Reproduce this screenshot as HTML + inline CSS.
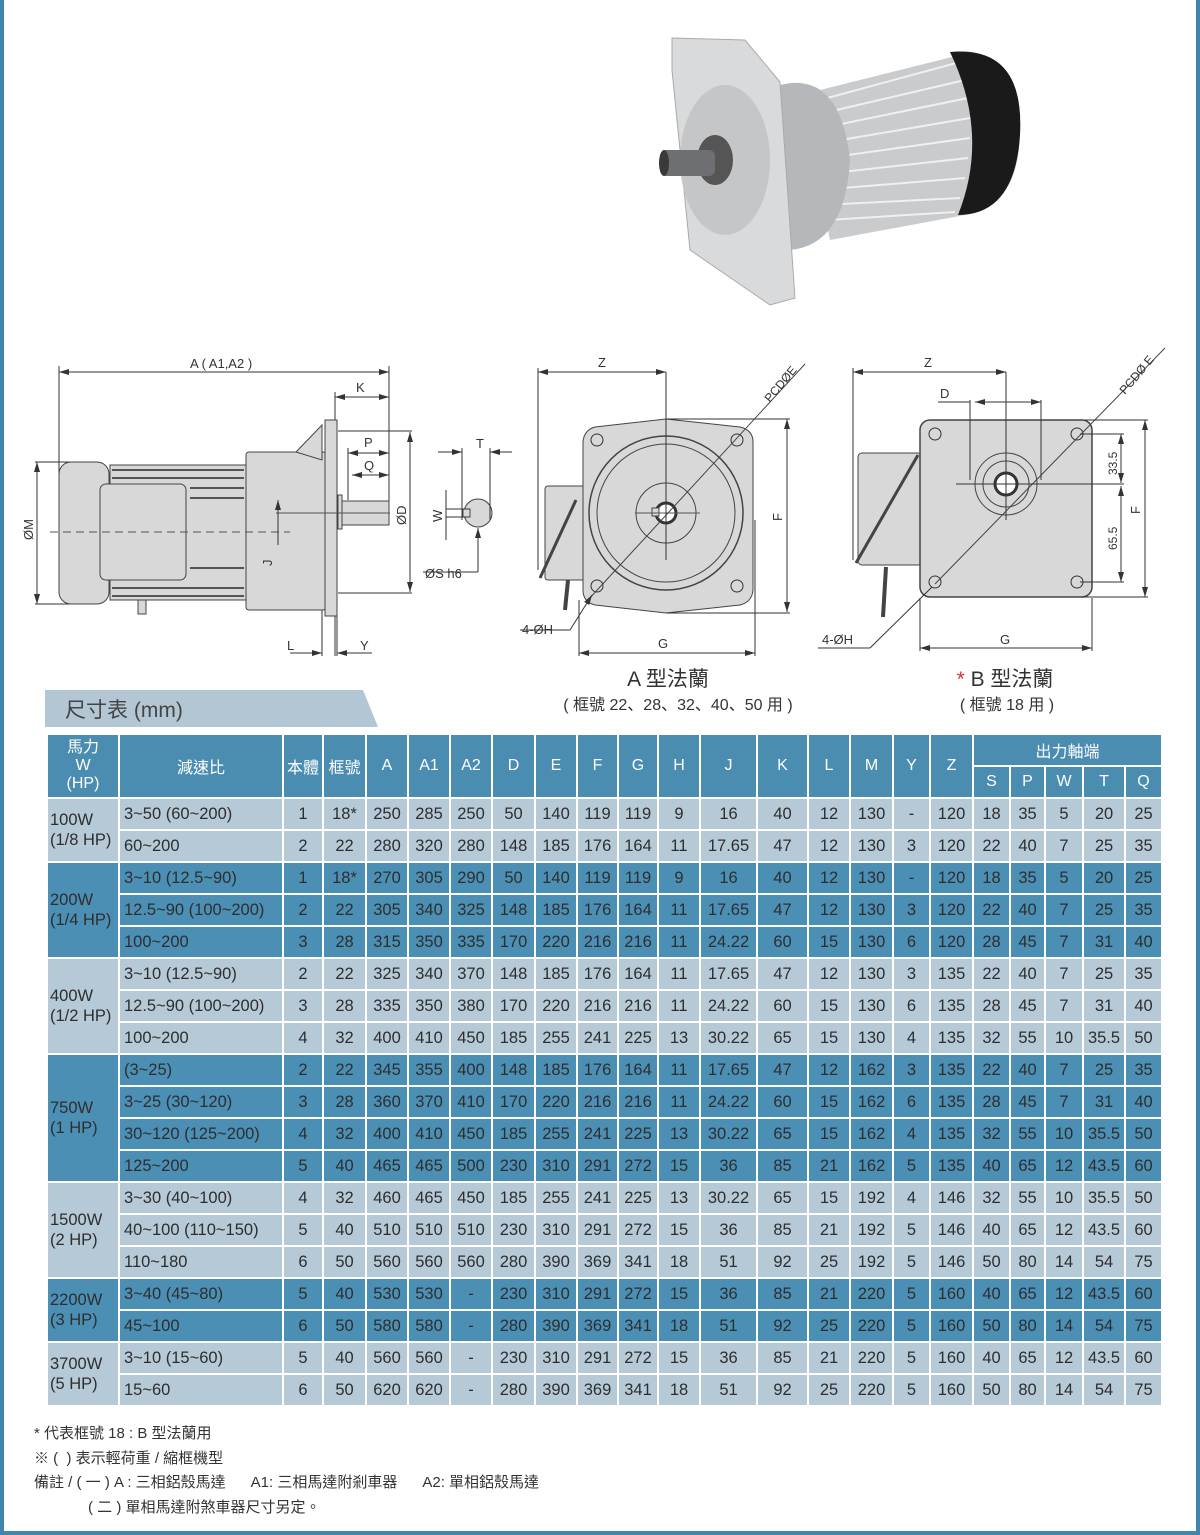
<!DOCTYPE html>
<html><head><meta charset="utf-8">
<style>
*{margin:0;padding:0;box-sizing:border-box}
body{width:1200px;height:1535px;background:#fff;position:relative;overflow:hidden;font-family:"Liberation Sans","Noto Sans CJK TC",sans-serif;color:#333}
.frame{position:absolute;left:0;top:0;width:1200px;height:1535px;border:4px solid #3d86ad;border-top:none}
svg{position:absolute;left:0;top:0}
.tab{position:absolute;left:45px;top:690px;width:333px;height:37px;background:#b3c6d4;clip-path:polygon(0 0,318px 0,333px 37px,0 37px);font-size:21px;color:#444;padding:4px 0 0 20px}
table{position:absolute;left:46px;top:733px;border-collapse:collapse;table-layout:fixed;font-size:16.5px;color:#2e2e2e}
td{border:2px solid #fff;height:32px;text-align:center;padding:0;white-space:nowrap}
thead td{background:#4a8db1;color:#fff;font-size:16px}
.l td{background:#b6c9d7}.d td{background:#4c8fb4}
td.r{text-align:left;padding-left:4px}
td.hp{text-align:left;padding-left:2px;line-height:20px}
.notes{position:absolute;left:34px;top:1422px;font-size:15px;line-height:24.5px;color:#333}
</style></head><body>
<div class="frame"></div>
<svg width="1200" height="735" font-family="Liberation Sans,sans-serif" font-size="12" fill="none" stroke="#333" stroke-width="1">
<defs><marker id="a" markerWidth="10" markerHeight="6" refX="10" refY="3" orient="auto-start-reverse"><path d="M0,0L10,3L0,6z" fill="#333" stroke="none"/></marker></defs>
<!-- motor photo -->
<g stroke="none">
<path d="M800,95 L960,55 Q1010,50 1020,130 Q1020,205 965,215 L830,240 Z" fill="#c9cbcd"/>
<g stroke="#eef0f2" stroke-width="2">
<line x1="820" y1="100" x2="960" y2="62"/><line x1="815" y1="115" x2="965" y2="80"/><line x1="812" y1="130" x2="968" y2="98"/><line x1="812" y1="145" x2="970" y2="118"/><line x1="812" y1="160" x2="970" y2="138"/><line x1="815" y1="175" x2="968" y2="158"/><line x1="818" y1="190" x2="965" y2="178"/><line x1="822" y1="205" x2="960" y2="198"/><line x1="828" y1="220" x2="955" y2="212"/></g>
<path d="M950,52 Q1025,45 1020,135 Q1015,215 958,215 Q990,135 950,52Z" fill="#1a1a1a"/>
<path d="M780,85 Q840,70 850,160 Q845,245 790,250 Z" fill="#b5b8bb"/>
<path d="M672,38 L745,40 L780,82 L795,298 L770,305 L690,250 L672,70 Z" fill="#d8dadc" stroke="#aaa"/>
<ellipse cx="725" cy="160" rx="45" ry="75" fill="#c4c6c8"/>
<ellipse cx="715" cy="160" rx="18" ry="25" fill="#555"/>
<rect x="660" y="150" width="55" height="26" rx="6" fill="#6d6f72"/>
<ellipse cx="664" cy="163" rx="5" ry="13" fill="#3a3a3a"/>
</g>
<!-- side view -->
<g stroke="#333">
<line x1="59" y1="372" x2="389" y2="372" marker-start="url(#a)" marker-end="url(#a)"/>
<line x1="59" y1="366" x2="59" y2="480"/><line x1="389" y1="366" x2="389" y2="520"/>
<line x1="335" y1="397" x2="389" y2="397" marker-start="url(#a)" marker-end="url(#a)"/><line x1="335" y1="392" x2="335" y2="420"/>
<line x1="348" y1="453" x2="389" y2="453" marker-start="url(#a)" marker-end="url(#a)"/><line x1="348" y1="448" x2="348" y2="500"/>
<line x1="352" y1="475" x2="389" y2="475" marker-start="url(#a)" marker-end="url(#a)"/>
<line x1="410" y1="432" x2="410" y2="592" marker-start="url(#a)" marker-end="url(#a)"/>
<line x1="338" y1="431" x2="412" y2="431"/><line x1="338" y1="593" x2="412" y2="593"/>
<line x1="37" y1="462" x2="37" y2="604" marker-start="url(#a)" marker-end="url(#a)"/>
<line x1="35" y1="462" x2="70" y2="462"/><line x1="35" y1="604" x2="70" y2="604"/>
<line x1="290" y1="653" x2="322" y2="653" marker-end="url(#a)"/><line x1="372" y1="653" x2="337" y2="653" marker-end="url(#a)"/>
<line x1="322" y1="600" x2="322" y2="656"/><line x1="337" y1="600" x2="337" y2="656"/><line x1="335" y1="600" x2="335" y2="656"/>
</g>
<g fill="#d8d8d8" stroke="#444">
<rect x="59" y="462" width="50" height="142" rx="12"/>
<rect x="110" y="465" width="136" height="135"/>
<rect x="100" y="484" width="86" height="96" rx="6"/>
<rect x="246" y="452" width="80" height="158" rx="3"/>
<path d="M296,452 L322,425 L322,460 Z"/>
<rect x="325" y="420" width="12" height="196"/>
<rect x="338" y="495" width="4" height="34"/>
<rect x="342" y="501" width="47" height="24"/>
<rect x="138" y="600" width="8" height="14"/>
</g>
<g stroke="#555" stroke-width="2"><line x1="112" y1="470" x2="244" y2="470"/><line x1="112" y1="478" x2="244" y2="478"/><line x1="190" y1="488" x2="244" y2="488"/><line x1="190" y1="498" x2="244" y2="498"/><line x1="190" y1="568" x2="244" y2="568"/><line x1="112" y1="588" x2="244" y2="588"/><line x1="112" y1="596" x2="244" y2="596"/></g>
<line x1="50" y1="532" x2="290" y2="532" stroke="#555" stroke-dasharray="8,5"/>
<line x1="276" y1="513" x2="390" y2="513" stroke="#555"/>
<line x1="278" y1="500" x2="278" y2="545" stroke="#333" marker-start="url(#a)"/>
<!-- key view -->
<circle cx="478" cy="513" r="14" fill="#d8d8d8" stroke="#444"/>
<rect x="463" y="509" width="7" height="8" fill="#d8d8d8" stroke="#444"/>
<line x1="438" y1="452" x2="462" y2="452" stroke="#333" marker-end="url(#a)"/><line x1="512" y1="452" x2="490" y2="452" stroke="#333" marker-end="url(#a)"/>
<line x1="462" y1="448" x2="462" y2="520"/><line x1="490" y1="448" x2="490" y2="520"/>
<line x1="446" y1="490" x2="446" y2="540"/><line x1="446" y1="509" x2="470" y2="509"/><line x1="446" y1="517" x2="470" y2="517"/>
<line x1="423" y1="572" x2="478" y2="572"/><line x1="478" y1="572" x2="478" y2="528" marker-end="url(#a)"/>
<!-- A flange -->
<rect x="545" y="486" width="40" height="94" rx="3" fill="#d8d8d8" stroke="#444"/>
<path d="M595,427 L666,419 L740,427 Q753,430 753,442 L753,590 Q752,602 740,605 L666,613 L595,605 Q583,602 583,590 L583,442 Q584,430 595,427Z" fill="#d8d8d8" stroke="#444"/>
<circle cx="666" cy="513" r="77" fill="none" stroke="#444" stroke-width="1.5"/>
<circle cx="666" cy="513" r="69" fill="none" stroke="#444"/>
<circle cx="666" cy="513" r="30" fill="none" stroke="#444"/>
<circle cx="666" cy="513" r="10" fill="#fff" stroke="#333" stroke-width="3"/>
<rect x="652" y="508" width="7" height="8" fill="#d8d8d8" stroke="#444"/>
<line x1="635" y1="513" x2="700" y2="513" stroke="#555"/>
<circle cx="597" cy="440" r="6"/><circle cx="737" cy="440" r="6"/><circle cx="597" cy="586" r="6"/><circle cx="737" cy="586" r="6"/>
<line x1="540" y1="578" x2="576" y2="500" stroke="#444" stroke-width="3"/>
<line x1="565" y1="610" x2="568" y2="580" stroke="#444" stroke-width="4"/>
<line x1="588" y1="600" x2="805" y2="364" stroke="#444"/>
<line x1="666" y1="372" x2="666" y2="560"/>
<line x1="538" y1="372" x2="666" y2="372" marker-start="url(#a)" marker-end="url(#a)"/><line x1="538" y1="368" x2="538" y2="570"/>
<line x1="787" y1="419" x2="787" y2="612" marker-start="url(#a)" marker-end="url(#a)"/><line x1="666" y1="419" x2="790" y2="419"/><line x1="666" y1="613" x2="790" y2="613"/>
<line x1="579" y1="653" x2="755" y2="653" marker-start="url(#a)" marker-end="url(#a)"/><line x1="579" y1="600" x2="579" y2="656"/><line x1="755" y1="520" x2="755" y2="656"/>
<line x1="520" y1="630" x2="570" y2="630"/><line x1="570" y1="630" x2="592" y2="595" marker-end="url(#a)"/>
<!-- B flange -->
<rect x="858" y="453" width="64" height="112" rx="4" fill="#d8d8d8" stroke="#444"/>
<rect x="920" y="420" width="172" height="177" rx="10" fill="#d8d8d8" stroke="#444" stroke-width="1.5"/>
<circle cx="1006" cy="484" r="31" fill="none" stroke="#444"/><circle cx="1006" cy="484" r="23" fill="none" stroke="#444"/><circle cx="1006" cy="484" r="11" fill="#fff" stroke="#333" stroke-width="3"/>
<circle cx="935" cy="434" r="6"/><circle cx="1077" cy="434" r="6"/><circle cx="935" cy="582" r="6"/><circle cx="1077" cy="582" r="6"/>
<line x1="856" y1="563" x2="918" y2="455" stroke="#444" stroke-width="3"/>
<line x1="883" y1="617" x2="886" y2="567" stroke="#444" stroke-width="4"/>
<line x1="935" y1="584" x2="1165" y2="348" stroke="#444"/>
<line x1="1006" y1="372" x2="1006" y2="520"/><line x1="956" y1="484" x2="1050" y2="484"/>
<line x1="853" y1="372" x2="1006" y2="372" marker-start="url(#a)" marker-end="url(#a)"/><line x1="853" y1="368" x2="853" y2="560"/>
<line x1="938" y1="402" x2="970" y2="402"/><line x1="975" y1="402" x2="1041" y2="402" marker-start="url(#a)" marker-end="url(#a)"/><line x1="970" y1="400" x2="970" y2="480"/><line x1="1041" y1="400" x2="1041" y2="480"/>
<line x1="1145" y1="420" x2="1145" y2="597" marker-start="url(#a)" marker-end="url(#a)"/><line x1="1082" y1="420" x2="1148" y2="420"/><line x1="1082" y1="597" x2="1148" y2="597"/>
<line x1="1121" y1="434" x2="1121" y2="483" marker-start="url(#a)" marker-end="url(#a)"/><line x1="1121" y1="486" x2="1121" y2="582" marker-start="url(#a)" marker-end="url(#a)"/>
<line x1="1045" y1="484" x2="1124" y2="484"/><line x1="1080" y1="434" x2="1124" y2="434"/><line x1="1080" y1="582" x2="1124" y2="582"/>
<line x1="920" y1="648" x2="1092" y2="648" marker-start="url(#a)" marker-end="url(#a)"/><line x1="920" y1="598" x2="920" y2="651"/><line x1="1092" y1="598" x2="1092" y2="651"/>
<line x1="818" y1="648" x2="870" y2="648"/><line x1="870" y1="648" x2="932" y2="587"/>
<!-- labels -->
<g fill="#333" stroke="none" font-size="13">
<text x="190" y="368">A ( A1,A2 )</text><text x="356" y="392">K</text><text x="364" y="447">P</text><text x="364" y="470">Q</text>
<text x="476" y="448">T</text><text x="425" y="578">ØS  h6</text><text x="287" y="650">L</text><text x="360" y="650">Y</text>
<text x="598" y="367">Z</text><text x="924" y="367">Z</text><text x="940" y="398">D</text>
<text x="658" y="648">G</text><text x="1000" y="644">G</text><text x="522" y="634">4-ØH</text><text x="822" y="644">4-ØH</text>
<text transform="translate(33,540) rotate(-90)">ØM</text><text transform="translate(406,525) rotate(-90)">ØD</text>
<text transform="translate(442,522) rotate(-90)">W</text><text transform="translate(272,566) rotate(-90)">J</text>
<text transform="translate(782,521) rotate(-90)">F</text><text transform="translate(1140,514) rotate(-90)">F</text>
<text transform="translate(1117,475) rotate(-90)" font-size="12">33.5</text><text transform="translate(1117,550) rotate(-90)" font-size="12">65.5</text>
<text transform="translate(770,403) rotate(-50)" font-size="12">PCDØE</text><text transform="translate(1125,395) rotate(-50)" font-size="12">PCDØ E</text>
<text x="668" y="686" font-size="21" text-anchor="middle">A 型法蘭</text>
<text x="678" y="710" font-size="16" text-anchor="middle">( 框號 22、28、32、40、50 用 )</text>
<text x="1005" y="686" font-size="21" text-anchor="middle"><tspan fill="#d33">*</tspan> B 型法蘭</text>
<text x="1007" y="710" font-size="16" text-anchor="middle">( 框號 18 用 )</text>
</g>
</svg>
<div class="tab">尺寸表 (mm)</div>
<table>
<colgroup><col style="width:72px"><col style="width:164px"><col style="width:40px"><col style="width:43px"><col style="width:42px"><col style="width:42px"><col style="width:42px"><col style="width:43px"><col style="width:42px"><col style="width:41px"><col style="width:40px"><col style="width:42px"><col style="width:57px"><col style="width:51px"><col style="width:42px"><col style="width:43px"><col style="width:37px"><col style="width:43px"><col style="width:37px"><col style="width:35px"><col style="width:38px"><col style="width:42px"><col style="width:37px"></colgroup>
<thead>
<tr><td rowspan="2" style="line-height:18px">馬力<br>W<br>(HP)</td><td rowspan="2">減速比</td><td rowspan="2">本體</td><td rowspan="2">框號</td><td rowspan="2">A</td><td rowspan="2">A1</td><td rowspan="2">A2</td><td rowspan="2">D</td><td rowspan="2">E</td><td rowspan="2">F</td><td rowspan="2">G</td><td rowspan="2">H</td><td rowspan="2">J</td><td rowspan="2">K</td><td rowspan="2">L</td><td rowspan="2">M</td><td rowspan="2">Y</td><td rowspan="2">Z</td><td colspan="5">出力軸端</td></tr>
<tr><td>S</td><td>P</td><td>W</td><td>T</td><td>Q</td></tr>
</thead>
<tbody>
<tr class="l"><td rowspan="2" class="hp">100W<br>(1/8 HP)</td><td class="r">3~50 (60~200)</td><td>1</td><td>18*</td><td>250</td><td>285</td><td>250</td><td>50</td><td>140</td><td>119</td><td>119</td><td>9</td><td>16</td><td>40</td><td>12</td><td>130</td><td>-</td><td>120</td><td>18</td><td>35</td><td>5</td><td>20</td><td>25</td></tr>
<tr class="l"><td class="r">60~200</td><td>2</td><td>22</td><td>280</td><td>320</td><td>280</td><td>148</td><td>185</td><td>176</td><td>164</td><td>11</td><td>17.65</td><td>47</td><td>12</td><td>130</td><td>3</td><td>120</td><td>22</td><td>40</td><td>7</td><td>25</td><td>35</td></tr>
<tr class="d"><td rowspan="3" class="hp">200W<br>(1/4 HP)</td><td class="r">3~10 (12.5~90)</td><td>1</td><td>18*</td><td>270</td><td>305</td><td>290</td><td>50</td><td>140</td><td>119</td><td>119</td><td>9</td><td>16</td><td>40</td><td>12</td><td>130</td><td>-</td><td>120</td><td>18</td><td>35</td><td>5</td><td>20</td><td>25</td></tr>
<tr class="d"><td class="r">12.5~90 (100~200)</td><td>2</td><td>22</td><td>305</td><td>340</td><td>325</td><td>148</td><td>185</td><td>176</td><td>164</td><td>11</td><td>17.65</td><td>47</td><td>12</td><td>130</td><td>3</td><td>120</td><td>22</td><td>40</td><td>7</td><td>25</td><td>35</td></tr>
<tr class="d"><td class="r">100~200</td><td>3</td><td>28</td><td>315</td><td>350</td><td>335</td><td>170</td><td>220</td><td>216</td><td>216</td><td>11</td><td>24.22</td><td>60</td><td>15</td><td>130</td><td>6</td><td>120</td><td>28</td><td>45</td><td>7</td><td>31</td><td>40</td></tr>
<tr class="l"><td rowspan="3" class="hp">400W<br>(1/2 HP)</td><td class="r">3~10 (12.5~90)</td><td>2</td><td>22</td><td>325</td><td>340</td><td>370</td><td>148</td><td>185</td><td>176</td><td>164</td><td>11</td><td>17.65</td><td>47</td><td>12</td><td>130</td><td>3</td><td>135</td><td>22</td><td>40</td><td>7</td><td>25</td><td>35</td></tr>
<tr class="l"><td class="r">12.5~90 (100~200)</td><td>3</td><td>28</td><td>335</td><td>350</td><td>380</td><td>170</td><td>220</td><td>216</td><td>216</td><td>11</td><td>24.22</td><td>60</td><td>15</td><td>130</td><td>6</td><td>135</td><td>28</td><td>45</td><td>7</td><td>31</td><td>40</td></tr>
<tr class="l"><td class="r">100~200</td><td>4</td><td>32</td><td>400</td><td>410</td><td>450</td><td>185</td><td>255</td><td>241</td><td>225</td><td>13</td><td>30.22</td><td>65</td><td>15</td><td>130</td><td>4</td><td>135</td><td>32</td><td>55</td><td>10</td><td>35.5</td><td>50</td></tr>
<tr class="d"><td rowspan="4" class="hp">750W<br>(1 HP)</td><td class="r">(3~25)</td><td>2</td><td>22</td><td>345</td><td>355</td><td>400</td><td>148</td><td>185</td><td>176</td><td>164</td><td>11</td><td>17.65</td><td>47</td><td>12</td><td>162</td><td>3</td><td>135</td><td>22</td><td>40</td><td>7</td><td>25</td><td>35</td></tr>
<tr class="d"><td class="r">3~25 (30~120)</td><td>3</td><td>28</td><td>360</td><td>370</td><td>410</td><td>170</td><td>220</td><td>216</td><td>216</td><td>11</td><td>24.22</td><td>60</td><td>15</td><td>162</td><td>6</td><td>135</td><td>28</td><td>45</td><td>7</td><td>31</td><td>40</td></tr>
<tr class="d"><td class="r">30~120 (125~200)</td><td>4</td><td>32</td><td>400</td><td>410</td><td>450</td><td>185</td><td>255</td><td>241</td><td>225</td><td>13</td><td>30.22</td><td>65</td><td>15</td><td>162</td><td>4</td><td>135</td><td>32</td><td>55</td><td>10</td><td>35.5</td><td>50</td></tr>
<tr class="d"><td class="r">125~200</td><td>5</td><td>40</td><td>465</td><td>465</td><td>500</td><td>230</td><td>310</td><td>291</td><td>272</td><td>15</td><td>36</td><td>85</td><td>21</td><td>162</td><td>5</td><td>135</td><td>40</td><td>65</td><td>12</td><td>43.5</td><td>60</td></tr>
<tr class="l"><td rowspan="3" class="hp">1500W<br>(2 HP)</td><td class="r">3~30 (40~100)</td><td>4</td><td>32</td><td>460</td><td>465</td><td>450</td><td>185</td><td>255</td><td>241</td><td>225</td><td>13</td><td>30.22</td><td>65</td><td>15</td><td>192</td><td>4</td><td>146</td><td>32</td><td>55</td><td>10</td><td>35.5</td><td>50</td></tr>
<tr class="l"><td class="r">40~100 (110~150)</td><td>5</td><td>40</td><td>510</td><td>510</td><td>510</td><td>230</td><td>310</td><td>291</td><td>272</td><td>15</td><td>36</td><td>85</td><td>21</td><td>192</td><td>5</td><td>146</td><td>40</td><td>65</td><td>12</td><td>43.5</td><td>60</td></tr>
<tr class="l"><td class="r">110~180</td><td>6</td><td>50</td><td>560</td><td>560</td><td>560</td><td>280</td><td>390</td><td>369</td><td>341</td><td>18</td><td>51</td><td>92</td><td>25</td><td>192</td><td>5</td><td>146</td><td>50</td><td>80</td><td>14</td><td>54</td><td>75</td></tr>
<tr class="d"><td rowspan="2" class="hp">2200W<br>(3 HP)</td><td class="r">3~40 (45~80)</td><td>5</td><td>40</td><td>530</td><td>530</td><td>-</td><td>230</td><td>310</td><td>291</td><td>272</td><td>15</td><td>36</td><td>85</td><td>21</td><td>220</td><td>5</td><td>160</td><td>40</td><td>65</td><td>12</td><td>43.5</td><td>60</td></tr>
<tr class="d"><td class="r">45~100</td><td>6</td><td>50</td><td>580</td><td>580</td><td>-</td><td>280</td><td>390</td><td>369</td><td>341</td><td>18</td><td>51</td><td>92</td><td>25</td><td>220</td><td>5</td><td>160</td><td>50</td><td>80</td><td>14</td><td>54</td><td>75</td></tr>
<tr class="l"><td rowspan="2" class="hp">3700W<br>(5 HP)</td><td class="r">3~10 (15~60)</td><td>5</td><td>40</td><td>560</td><td>560</td><td>-</td><td>230</td><td>310</td><td>291</td><td>272</td><td>15</td><td>36</td><td>85</td><td>21</td><td>220</td><td>5</td><td>160</td><td>40</td><td>65</td><td>12</td><td>43.5</td><td>60</td></tr>
<tr class="l"><td class="r">15~60</td><td>6</td><td>50</td><td>620</td><td>620</td><td>-</td><td>280</td><td>390</td><td>369</td><td>341</td><td>18</td><td>51</td><td>92</td><td>25</td><td>220</td><td>5</td><td>160</td><td>50</td><td>80</td><td>14</td><td>54</td><td>75</td></tr>
</tbody></table>
<div class="notes">* 代表框號 18 : B 型法蘭用<br>※ (&nbsp; ) 表示輕荷重 / 縮框機型<br>備註 / ( 一 ) A : 三相鋁殼馬達&nbsp;&nbsp;&nbsp;&nbsp;&nbsp; A1: 三相馬達附剎車器&nbsp;&nbsp;&nbsp;&nbsp;&nbsp; A2: 單相鋁殼馬達<br><span style="padding-left:54px">( 二 ) 單相馬達附煞車器尺寸另定。</span></div>
</body></html>
